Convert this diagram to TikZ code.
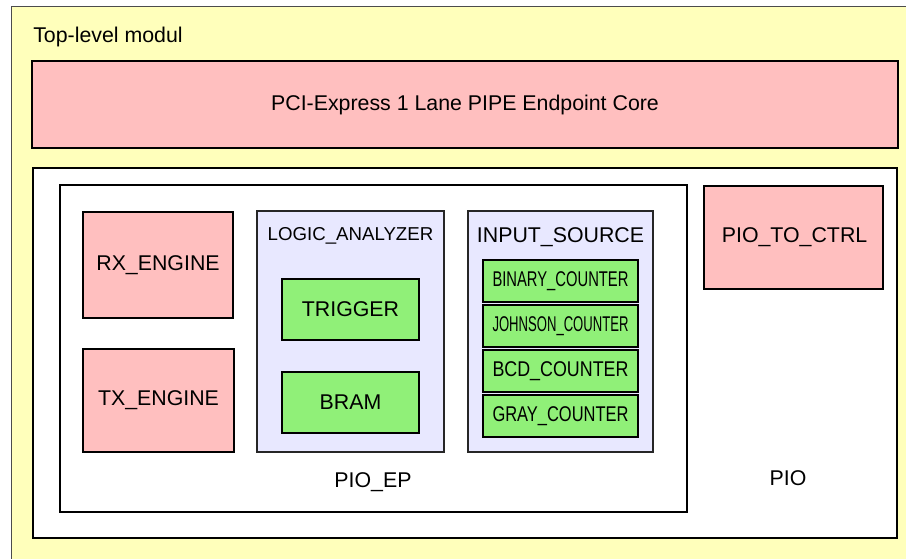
\documentclass[tikz,border=0pt]{standalone}
\usepackage{fontspec}
\setmainfont{Liberation Sans}
\usetikzlibrary{positioning}
\definecolor{modyellow}{HTML}{FFFFBB}
\definecolor{corepink}{HTML}{FFBFBF}
\definecolor{subblue}{HTML}{E8E8FF}
\definecolor{leafgreen}{HTML}{90F078}
% squeeze a counter name to the width of its box
\newcommand{\fitlabel}[1]{\resizebox{102pt}{\height}{#1}}

\begin{document}
\begin{tikzpicture}[x=0.75pt,y=-0.75pt,
  px/.style 2 args={minimum width=#1*0.75pt,minimum height=#2*0.75pt},
  blk/.style={draw=black,line width=1.5pt,inner sep=0pt,font=\fontsize{16}{18}\selectfont},
  core/.style={blk,fill=corepink},
  sub/.style={blk,draw=black!85,fill=subblue},
  leaf/.style={blk,fill=leafgreen},
  lbl/.style={inner sep=0pt,font=\fontsize{16}{18}\selectfont}]
\useasboundingbox (0,0) rectangle (906,558);
\clip (0,0) rectangle (906,558);
\fill[white] (0,0) rectangle (906,558);

% top level
\node[draw=black!70,line width=1pt,fill=modyellow,px={920}{580},anchor=north west] (toplevel) at (11,6) {};
\node[lbl,anchor=base west] (toplbl) at (33,42) {Top-level modul};
\node[core,px={866}{87}] (pcie) at (465,104.5) {PCI-Express 1 Lane PIPE Endpoint Core};

% PIO and PIO_EP
\node[blk,fill=white,px={864}{370}] (pio) at (465,353) {};
\node[blk,fill=white,px={627}{327}] (pioep) at (373.5,348.5) {};
\node[lbl,anchor=base] (pioeplbl) at (373,487) {PIO\_EP};
\node[lbl,anchor=base] (piolbl) at (788,485.5) {PIO};
\node[core,px={179}{103},text width=170*0.75pt,align=left] (ctrl) at (793.5,237.5) {\hspace*{10pt}PIO\_TO\_CTRL};

\node[core,px={150}{106}] (rx) at (158,265) {RX\_ENGINE};
\node[core,px={151}{103}] (tx) at (158.5,400.5) {TX\_ENGINE};

% logic analyzer
\node[sub,px={187}{241}] (logic) at (350.5,331.5) {};
\node[lbl,font=\fontsize{14}{16}\selectfont,anchor=base] (logiclbl) at (350.5,240) {LOGIC\_ANALYZER};
\node[leaf,px={137}{61}] (trigger) at (350.5,309.5) {TRIGGER};
\node[leaf,px={137}{61}] (bram) at (350.5,402.5) {BRAM};

% input source with its counters
\node[sub,px={185}{241}] (input) at (560.5,331.5) {};
\node[lbl,anchor=base] (inputlbl) at (560.5,242) {INPUT\_SOURCE};
\foreach \name [count=\i] in {BINARY,JOHNSON,BCD,GRAY} {
\node[leaf,px={155}{42}] (cnt\i) at (560.5,236+45*\i) {\fitlabel{\name\_COUNTER}}; }

\end{tikzpicture}
\end{document}
